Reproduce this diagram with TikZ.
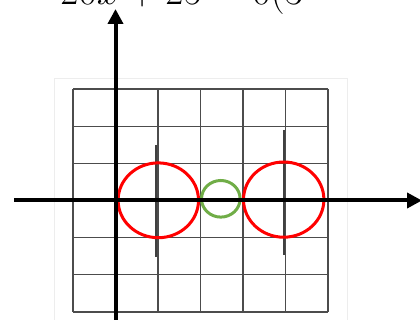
\documentclass[tikz,border=0pt]{standalone}
\usetikzlibrary{arrows.meta}
\begin{document}
\begin{tikzpicture}[x=1pt,y=-1pt,
  gridline/.style={draw=black!70,line width=1.3pt},
  axis/.style={draw=black,line width=4pt,-{Triangle[length=15pt,width=15pt]}},
  tickmark/.style={draw=black!75,line width=2pt},
  redring/.style={draw=red,line width=3pt},
  greenring/.style={draw={rgb,255:red,112;green,173;blue,71},line width=3pt}]
\useasboundingbox (0,0) rectangle (420,320);
% light frame
\draw[black!7,line width=1pt] (54,79) -- (347,79) -- (347,325) (54,79) -- (54,325);
% grid
\foreach \x in {73,115.5,158,200.5,243,285.5,328} \draw[gridline] (\x,89) -- (\x,312);
\foreach \y in {89,126.2,163.3,200.5,237.7,274.8,312} \draw[gridline] (73,\y) -- (328,\y);
% tick marks
\draw[tickmark] (156,145) -- (156,257);
\draw[tickmark] (284,130) -- (284,255);
% circles
\draw[redring] (158.3,200.3) ellipse [x radius=40.2, y radius=37.4];
\draw[redring] (283.7,199.6) ellipse [x radius=40.2, y radius=37.6];
\draw[greenring] (220.8,198.8) ellipse [x radius=19.3, y radius=18.3];
% axes
\coordinate (xs) at (14,200.5);
\coordinate (xe) at (422,200.5);
\coordinate (ys) at (115.5,322);
\coordinate (ye) at (115.5,9);
\draw[axis] (xs) -- (xe);
\draw[axis] (ys) -- (ye);
% equation
\node[anchor=base west,inner sep=0pt,scale=1.6,font=\fontsize{30}{30}\selectfont] (eq) at (60,5) {$20x+25=0(3$};
\end{tikzpicture}
\end{document}
